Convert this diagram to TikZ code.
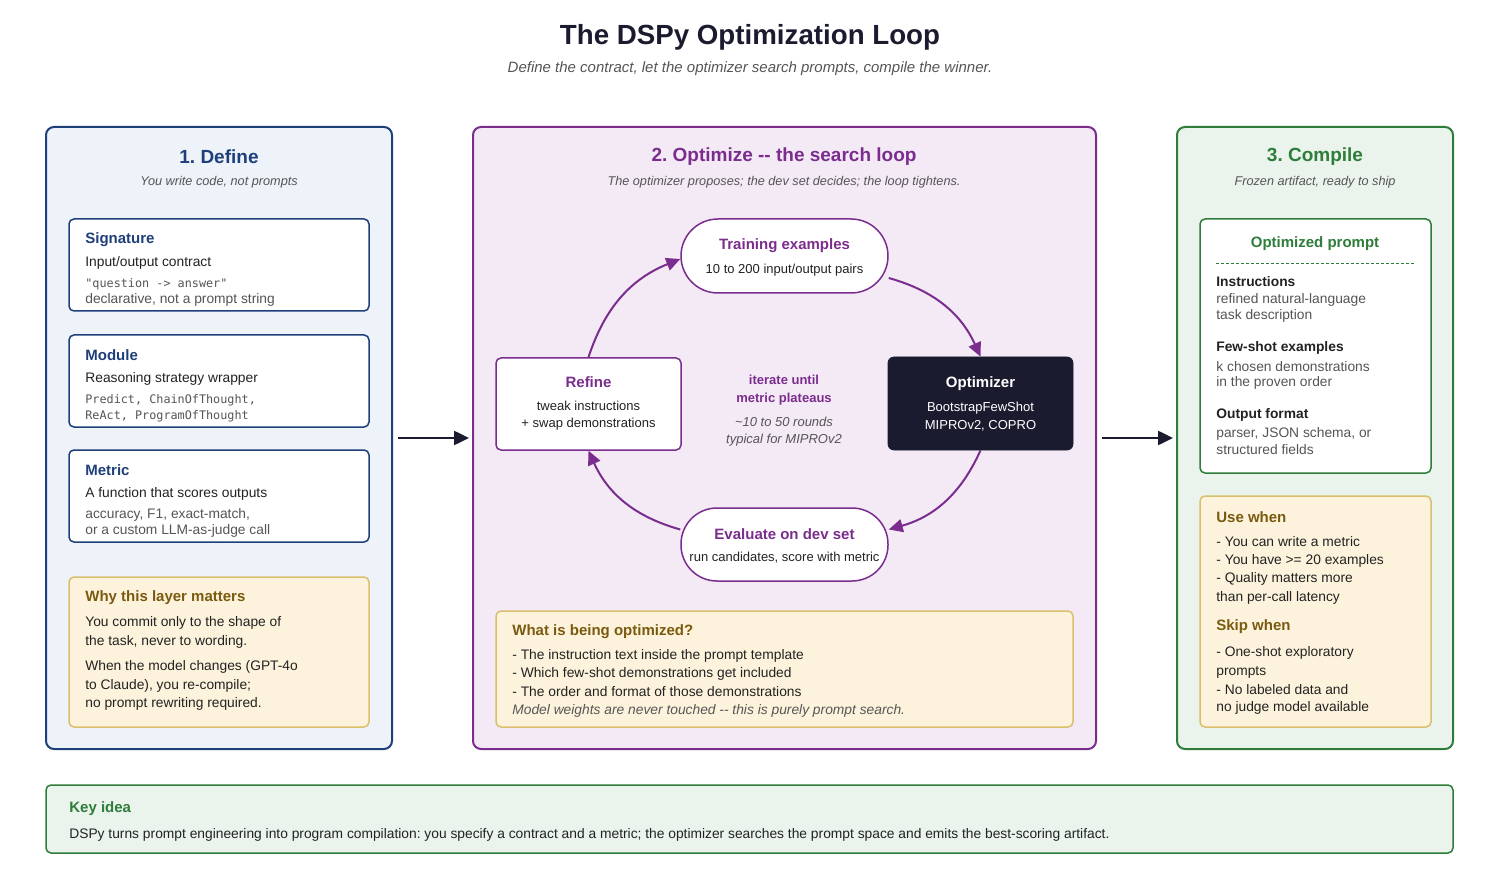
\documentclass[tikz,border=0pt]{standalone}
\usepackage{fontspec}
\setmainfont{Liberation Sans}
\newfontfamily\codefont{DejaVu Sans Mono}
\usetikzlibrary{arrows.meta}
\definecolor{ink}{HTML}{1B1B2F}
\definecolor{defblue}{HTML}{1F3F7A}
\definecolor{defbg}{HTML}{EEF3FA}
\definecolor{optpurple}{HTML}{7B2D8E}
\definecolor{optbg}{HTML}{F3EAF6}
\definecolor{cmpgreen}{HTML}{2E7D3A}
\definecolor{cmpbg}{HTML}{EAF4EC}
\definecolor{notebg}{HTML}{FDF3DC}
\definecolor{noteline}{HTML}{D9BF6E}
\definecolor{notebrown}{HTML}{7A5A10}
\definecolor{bodytext}{HTML}{222222}
\definecolor{subtext}{HTML}{555555}
\tikzset{every picture/.style={line width=0.75pt}}
\newcommand{\fs}[1]{\fontsize{#1}{#1}\selectfont}
\frenchspacing

\begin{document}
\begin{tikzpicture}[x=1pt,y=1pt,yscale=-1,xscale=1,
  panel/.style={draw=#1,line width=2pt,rounded corners=8pt},
  card/.style={draw=#1,fill=white,line width=1.5pt,rounded corners=5pt},
  note/.style={draw=noteline,fill=notebg,line width=1.5pt,rounded corners=5pt},
  hd/.style={font=\fs{19}\bfseries,text=#1},
  sub/.style={font=\fs{12.7}\itshape,text=subtext},
  ttl/.style={anchor=west,inner sep=0pt,font=\fs{15}\bfseries,text=#1},
  txt/.style={anchor=west,inner sep=0pt,font=\fs{13.8},text=bodytext},
  code/.style={anchor=west,inner sep=0pt,font=\fs{11.8}\codefont,text=subtext},
  ctr/.style={inner sep=0pt,font=\fs{13},text=bodytext},
  loop/.style={-{Triangle[length=14pt,width=13pt]},draw=optpurple,line width=2pt},
  flow/.style={-{Triangle[length=15pt,width=14pt]},draw=ink,line width=2.5pt}]
\useasboundingbox (0,0) rectangle (1500,877);

% title
\node (title) at (750,37) {\fs{27.7}\bfseries\color{ink}The DSPy Optimization Loop};
\node[sub,font=\fs{15}\itshape] (subtitle) at (750,69) {Define the contract, let the optimizer search prompts, compile the winner.};

% panel 1: define
\draw[panel=defblue,fill=defbg] (46,127) rectangle (392,749);
\node[hd=defblue] (defhd) at (219,157) {1. Define};
\node[sub] (defsub) at (219,182) {You write code, not prompts};
\draw[card=defblue] (69,219) rectangle (369,311);
\node[ttl=defblue] (sig) at (85,240) {Signature};
\node[txt] at (85,263) {Input/output contract};
\node[code] at (85,284) {"question -> answer"};
\node[txt,text=subtext] at (85,300) {declarative, not a prompt string};
\draw[card=defblue] (69,335) rectangle (369,427);
\node[ttl=defblue] (mod) at (85,355) {Module};
\node[txt] at (85,379) {Reasoning strategy wrapper};
\node[code] at (85,400) {Predict, ChainOfThought,};
\node[code] at (85,416) {ReAct, ProgramOfThought};
\draw[card=defblue] (69,450) rectangle (369,542);
\node[ttl=defblue] (met) at (85,470) {Metric};
\node[txt] at (85,494) {A function that scores outputs};
\node[txt,text=subtext] at (85,515) {accuracy, F1, exact-match,};
\node[txt,text=subtext] at (85,531) {or a custom LLM-as-judge call};
\draw[note] (69,577) rectangle (369,727);
\node[ttl=notebrown] at (85,598) {Why this layer matters};
\node[txt] at (85,623) {You commit only to the shape of};
\node[txt] at (85,642) {the task, never to wording.};
\node[txt] at (85,667) {When the model changes (GPT-4o};
\node[txt] at (85,686) {to Claude), you re-compile;};
\node[txt] at (85,704) {no prompt rewriting required.};

% panel 2: optimize
\draw[panel=optpurple,fill=optbg] (473,127) rectangle (1096,749);
\node[hd=optpurple] (opthd) at (784,157) {2. Optimize -{}- the search loop};
\node[sub] (optsub) at (784,182) {The optimizer proposes; the dev set decides; the loop tightens.};
\node[card=optpurple,rounded corners=37pt,minimum width=207pt,minimum height=74pt] (train) at (784.5,256) {};
\node[ctr,font=\fs{15}\bfseries,text=optpurple] at (784.5,246) {Training examples};
\node[ctr] at (784.5,270) {10 to 200 input/output pairs};
\node[card=optpurple,minimum width=185pt,minimum height=92pt] (refine) at (588.5,404) {};
\node[ctr,font=\fs{15}\bfseries,text=optpurple] at (588.5,382) {Refine};
\node[ctr] at (588.5,406) {tweak instructions};
\node[ctr] at (588.5,424) {+ swap demonstrations};
\node[draw=ink,fill=ink,rounded corners=6pt,minimum width=185pt,minimum height=93pt] (optim) at (980.5,403.5) {};
\node[ctr,font=\fs{15}\bfseries,text=white] at (980.5,384) {Optimizer};
\node[ctr,text=white] at (980.5,408) {BootstrapFewShot};
\node[ctr,text=white] at (980.5,426) {MIPROv2, COPRO};
\node[card=optpurple,rounded corners=36pt,minimum width=207pt,minimum height=73pt] (evalset) at (784.5,544.5) {};
\node[ctr,font=\fs{15}\bfseries,text=optpurple] at (784.5,534) {Evaluate on dev set};
\node[ctr] at (784.5,558) {run candidates, score with metric};
\node[ctr,font=\fs{13}\bfseries,text=optpurple] at (784,380) {iterate until};
\node[ctr,font=\fs{13}\bfseries,text=optpurple] at (784,399) {metric plateaus};
\node[ctr,font=\fs{13}\itshape,text=subtext] at (784,422) {\textasciitilde10 to 50 rounds};
\node[ctr,font=\fs{13}\itshape,text=subtext] at (784,440) {typical for MIPROv2};
\draw[loop] (refine.north) to[bend right=25] ([yshift=3pt]train.west);
\draw[loop] ([yshift=22pt]train.east) to[bend right=25] (optim.north);
\draw[loop] (optim.south) to[bend right=25] ([yshift=-15pt]evalset.east);
\draw[loop] ([yshift=-15pt]evalset.west) to[bend right=25] (refine.south);
\draw[note] (496,611) rectangle (1073,727);
\node[ttl=notebrown] at (512,632) {What is being optimized?};
\node[txt] at (512,656) {- The instruction text inside the prompt template};
\node[txt] at (512,674) {- Which few-shot demonstrations get included};
\node[txt] at (512,692) {- The order and format of those demonstrations};
\node[txt,font=\fs{13.8}\itshape,text=subtext] at (512,711) {Model weights are never touched -{}- this is purely prompt search.};

% panel 3: compile
\draw[panel=cmpgreen,fill=cmpbg] (1177,127) rectangle (1453,749);
\node[hd=cmpgreen] (cmphd) at (1315,157) {3. Compile};
\node[sub] (cmpsub) at (1315,182) {Frozen artifact, ready to ship};
\draw[card=cmpgreen] (1200,219) rectangle (1431,473);
\node[ctr,font=\fs{15}\bfseries,text=cmpgreen] at (1315,244) {Optimized prompt};
\draw[cmpgreen,dash pattern=on 3pt off 2pt] (1216,263) -- (1415,263);
\node[ttl=bodytext,font=\fs{13.8}\bfseries] at (1216,282) {Instructions};
\node[txt,text=subtext] at (1216,300) {refined natural-language};
\node[txt,text=subtext] at (1216,316) {task description};
\node[ttl=bodytext,font=\fs{13.8}\bfseries] at (1216,348) {Few-shot examples};
\node[txt,text=subtext] at (1216,367) {k chosen demonstrations};
\node[txt,text=subtext] at (1216,383) {in the proven order};
\node[ttl=bodytext,font=\fs{13.8}\bfseries] at (1216,415) {Output format};
\node[txt,text=subtext] at (1216,434) {parser, JSON schema, or};
\node[txt,text=subtext] at (1216,450) {structured fields};
\draw[note] (1200,496) rectangle (1431,727);
\node[ttl=notebrown] at (1216,517) {Use when};
\node[txt] at (1216,542) {- You can write a metric};
\node[txt] at (1216,561) {- You have >= 20 examples};
\node[txt] at (1216,579) {- Quality matters more};
\node[txt] at (1216,598) {than per-call latency};
\node[ttl=notebrown] at (1216,627) {Skip when};
\node[txt] at (1216,653) {- One-shot exploratory};
\node[txt] at (1216,672) {prompts};
\node[txt] at (1216,690) {- No labeled data and};
\node[txt] at (1216,708) {no judge model available};

% flow between panels
\coordinate (d1) at (398,438);
\coordinate (o1) at (469,438);
\coordinate (o2) at (1102,438);
\coordinate (c1) at (1173,438);
\draw[flow] (d1) -- (o1);
\draw[flow] (o2) -- (c1);

% key idea
\draw[panel=cmpgreen,fill=cmpbg,line width=1.5pt,rounded corners=5pt] (46,785) rectangle (1453,853);
\node[ttl=cmpgreen] at (69,809) {Key idea};
\node[txt] at (69,835) {DSPy turns prompt engineering into program compilation: you specify a contract and a metric; the optimizer searches the prompt space and emits the best-scoring artifact.};
\end{tikzpicture}
\end{document}
